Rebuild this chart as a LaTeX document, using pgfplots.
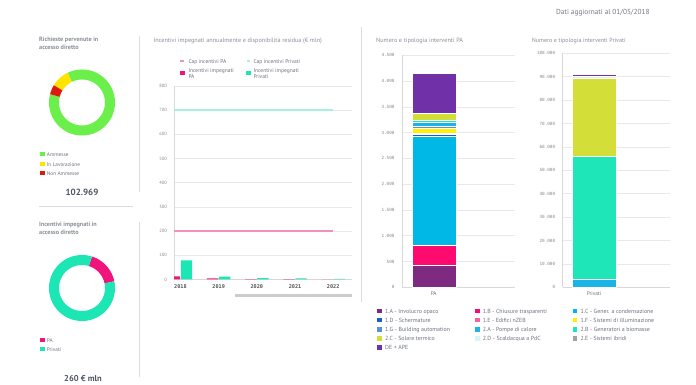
\documentclass[border=0pt]{standalone}
\usepackage{fontspec}
\setmainfont{PT Sans}
\newfontfamily\monof{DejaVu Sans Mono}
\usepackage{pgfplots}
\pgfplotsset{compat=1.18}
\usepgfplotslibrary{polar}
\usepackage{pgfplotstable}
\newcommand\fs[1]{\fontsize{#1}{#1}\selectfont}
\definecolor{titc}{HTML}{8C8F99}
\definecolor{numc}{HTML}{4D5463}
\definecolor{legc}{HTML}{6E7280}
\definecolor{sepc}{HTML}{DDDDDD}
\definecolor{gridc}{HTML}{E8E8E8}
\definecolor{axc}{HTML}{D8D8D8}
\definecolor{tickc}{HTML}{8A8A8A}
\definecolor{xtickc}{HTML}{555555}
\definecolor{paC}{HTML}{F0147C}
\definecolor{privC}{HTML}{1DE6B5}
\definecolor{capPA}{HTML}{F490BC}
\definecolor{capPriv}{HTML}{A6F0DD}
\definecolor{grn}{HTML}{6BEF4A}
\definecolor{yel}{HTML}{FFE400}
\definecolor{rdd}{HTML}{DD1A10}
\definecolor{cA}{HTML}{7D2A80}
\definecolor{cB}{HTML}{FF0A6E}
\definecolor{cC}{HTML}{00B8E6}
\definecolor{cD}{HTML}{1560C8}
\definecolor{cE}{HTML}{F0649A}
\definecolor{cF}{HTML}{FFF200}
\definecolor{cG}{HTML}{5B8FD6}
\definecolor{dA}{HTML}{1AB4E8}
\definecolor{dB}{HTML}{1EE6B8}
\definecolor{dC}{HTML}{D4DE38}
\definecolor{dD}{HTML}{D8F1FA}
\definecolor{dE}{HTML}{A0A0A0}
\definecolor{cDE}{HTML}{7030A8}
\definecolor{scrc}{HTML}{CCCCCC}

\pgfplotstableread{
x pa priv
0 12 79
1 4 11
2 1.5 5.5
3 1 4
4 0.3 2.5
}\incent

\begin{document}
\begin{tikzpicture}[x=1pt,y=1pt]
\useasboundingbox (0,0) rectangle (696,385);
\fill[white] (0,0) rectangle (696,385);

% header
\node[anchor=mid west, inner sep=0, text=numc!80] at (556,373.3) {\fs{7.3}Dati aggiornati al 01/05/2018};

% separators
\draw[sepc, line width=0.8pt] (139,349) -- (139,193);
\draw[sepc, line width=0.8pt] (139,163) -- (139,8);
\draw[sepc, line width=0.8pt] (39,179) -- (132.7,179);
\draw[sepc, line width=0.8pt] (361,358) -- (361,83);

% ---------- left panel 1
\node[anchor=mid west, inner sep=0, text=titc] at (39,345.7) {\fs{6.2}\bfseries Richieste pervenute in};
\node[anchor=mid west, inner sep=0, text=titc] at (39,338.3) {\fs{6.2}\bfseries accesso diretto};
\begin{polaraxis}[at={(82pt,282.5pt)}, anchor=origin, scale only axis, width=66pt, height=66pt,
  hide axis, ymin=0, ymax=1.1786, clip=false]
\addplot[no markers, line width=10pt, draw=grn, domain=165.5:476, samples=150] {1};
\addplot[no markers, line width=10pt, draw=yel, domain=116:148.5, samples=30] {1};
\addplot[no markers, line width=10pt, draw=rdd, domain=148.5:165.5, samples=20] {1};
\end{polaraxis}
\fill[grn] (40,228.7) rectangle (44.7,233.4);
\fill[yel] (40,218.7) rectangle (44.7,223.4);
\fill[rdd] (40,209.7) rectangle (44.7,214.4);
\node[anchor=mid west, inner sep=0, text=legc] at (46.7,231) {\fs{5.3}Ammesse};
\node[anchor=mid west, inner sep=0, text=legc] at (46.7,221) {\fs{5.3}In Lavorazione};
\node[anchor=mid west, inner sep=0, text=legc] at (46.7,212) {\fs{5.3}Non Ammesse};
\node[inner sep=0, text=numc] at (82,192.3) {\fs{9}\bfseries 102.969};

% ---------- left panel 2
\node[anchor=mid west, inner sep=0, text=titc] at (39,161) {\fs{6.2}\bfseries Incentivi impegnati in};
\node[anchor=mid west, inner sep=0, text=titc] at (39,152.7) {\fs{6.2}\bfseries accesso diretto};
\begin{polaraxis}[at={(82pt,97pt)}, anchor=origin, scale only axis, width=66pt, height=66pt,
  hide axis, ymin=0, ymax=1.1786, clip=false]
\addplot[no markers, line width=10pt, draw=paC, domain=11.6:72.5, samples=40] {1};
\addplot[no markers, line width=10pt, draw=privC, domain=72.5:371.6, samples=150] {1};
\end{polaraxis}
\fill[paC] (40,42.7) rectangle (44.7,47.4);
\fill[privC] (40,33.7) rectangle (44.7,38.4);
\node[anchor=mid west, inner sep=0, text=legc] at (46.7,45) {\fs{5.3}PA};
\node[anchor=mid west, inner sep=0, text=legc] at (46.7,36) {\fs{5.3}Privati};
\node[inner sep=0, text=numc] at (83,6.9) {\fs{8.5}\bfseries 260 € mln};

% ---------- middle chart
\node[anchor=mid west, inner sep=0, text=titc] at (153.3,345) {\fs{6.2}Incentivi impegnati annualmente e disponibilità residua (€ mln)};
\draw[capPA, line width=1.2pt] (180,324) -- (183.5,324);
\draw[capPriv, line width=1.2pt] (246.5,324) -- (250,324);
\node[anchor=mid west, inner sep=0, text=legc] at (188.3,324) {\fs{5.5}Cap incentivi PA};
\node[anchor=mid west, inner sep=0, text=legc] at (253.3,324) {\fs{5.5}Cap incentivi Privati};
\fill[paC] (180,309.7) rectangle (184.7,314.4);
\fill[privC] (246,309.7) rectangle (250.7,314.4);
\node[anchor=mid west, inner sep=0, text=legc] at (188.3,314.6) {\fs{5.5}Incentivi impegnati};
\node[anchor=mid west, inner sep=0, text=legc] at (188.3,309) {\fs{5.5}PA};
\node[anchor=mid west, inner sep=0, text=legc] at (253.3,314.6) {\fs{5.5}Incentivi impegnati};
\node[anchor=mid west, inner sep=0, text=legc] at (253.3,309) {\fs{5.5}Privati};

\begin{axis}[at={(174pt,105.6pt)}, anchor=south west, scale only axis, width=178.3pt, height=193.6pt,
  xmin=-0.17, xmax=4.5, ymin=0, ymax=800, ytick={0,100,200,300,400,500,600,700,800},
  xtick={0,1,2,3,4}, xticklabels={2018,2019,2020,2021,2022},
  axis lines*=left, axis line style={draw=axc, line width=0.6pt},
  ymajorgrids, grid style={draw=gridc, line width=0.5pt},
  tick style={draw=none},
  /pgf/number format/assume math mode=true,
  yticklabel style={font=\fs{4.6}, text=tickc, xshift=-3.5pt},
  xticklabel style={font=\monof\bfseries\fs{5.2}, text=xtickc, yshift=-1.5pt},
  clip=true]
\addplot[ybar, bar width=11.4pt, bar shift=-6pt, fill=paC, draw=none] table[x=x,y=pa]{\incent};
\addplot[ybar, bar width=11.4pt, bar shift=6pt, fill=privC, draw=none] table[x=x,y=priv]{\incent};
\addplot[sharp plot, no markers, draw=capPA, line width=1.2pt] coordinates {(-1,200) (0,200) (1,200) (2,200) (3,200) (4,200)};
\addplot[sharp plot, no markers, draw=capPriv, line width=1.2pt] coordinates {(-1,700) (0,700) (1,700) (2,700) (3,700) (4,700)};
\end{axis}
\fill[scrc] (235,88) rectangle (352.3,91);

% ---------- PA stacked
\node[anchor=mid west, inner sep=0, text=titc] at (376,345) {\fs{6.2}Numero e tipologia interventi PA};
\begin{axis}[at={(402pt,97.7pt)}, anchor=south west, scale only axis, width=113pt, height=232pt,
  xmin=0, xmax=1, ymin=0, ymax=4500, ytick={0,500,1000,1500,2000,2500,3000,3500,4000,4500},
  xtick={0.2805}, xticklabels={PA},
  ybar stacked, bar width=44pt,
  axis lines*=left, axis line style={draw=axc, line width=0.6pt},
  ymajorgrids, grid style={draw=gridc, line width=0.5pt},
  tick style={draw=none}, scaled y ticks=false,
  /pgf/number format/.cd, fixed, precision=0, 1000 sep={.}, assume math mode=true, /pgfplots/.cd,
  yticklabel style={font=\monof\fs{4.3}, text=tickc, xshift=-4pt},
  xticklabel style={font=\fs{5.3}, text=legc, yshift=-0.5pt},
  every axis plot/.append style={draw=white, line width=0.3pt}]
\addplot[fill=cA] coordinates {(0.2805,430)};
\addplot[fill=cB] coordinates {(0.2805,384)};
\addplot[fill=cC] coordinates {(0.2805,2116)};
\addplot[fill=cD] coordinates {(0.2805,45)};
\addplot[fill=cE] coordinates {(0.2805,20)};
\addplot[fill=cF] coordinates {(0.2805,100)};
\addplot[fill=cG] coordinates {(0.2805,30)};
\addplot[fill=dA] coordinates {(0.2805,70)};
\addplot[fill=dB] coordinates {(0.2805,50)};
\addplot[fill=dC] coordinates {(0.2805,130)};
\addplot[fill=dD] coordinates {(0.2805,5)};
\addplot[fill=dE] coordinates {(0.2805,5)};
\addplot[fill=cDE] coordinates {(0.2805,765)};
\end{axis}

% ---------- Privati stacked
\node[anchor=mid west, inner sep=0, text=titc] at (531.7,345) {\fs{6.0}Numero e tipologia interventi Privati};
\begin{axis}[at={(562.7pt,97.7pt)}, anchor=south west, scale only axis, width=107.3pt, height=234pt,
  xmin=0, xmax=1, ymin=0, ymax=100000,
  ytick={0,10000,20000,30000,40000,50000,60000,70000,80000,90000,100000},
  xtick={0.2917}, xticklabels={Privati},
  ybar stacked, bar width=43.4pt,
  axis lines*=left, axis line style={draw=axc, line width=0.6pt},
  ymajorgrids, grid style={draw=gridc, line width=0.5pt},
  tick style={draw=none}, scaled y ticks=false,
  /pgf/number format/.cd, fixed, precision=0, 1000 sep={.}, assume math mode=true, /pgfplots/.cd,
  yticklabel style={font=\monof\fs{4.3}, text=tickc, xshift=-4pt},
  xticklabel style={font=\fs{5.3}, text=legc, yshift=-0.5pt},
  every axis plot/.append style={draw=white, line width=0.3pt}]
\addplot[fill=cA] coordinates {(0.2917,50)};
\addplot[fill=cB] coordinates {(0.2917,100)};
\addplot[fill=cC] coordinates {(0.2917,30)};
\addplot[fill=cD] coordinates {(0.2917,10)};
\addplot[fill=cE] coordinates {(0.2917,0)};
\addplot[fill=cF] coordinates {(0.2917,0)};
\addplot[fill=cG] coordinates {(0.2917,0)};
\addplot[fill=dA] coordinates {(0.2917,3300)};
\addplot[fill=dB] coordinates {(0.2917,52600)};
\addplot[fill=dC] coordinates {(0.2917,33200)};
\addplot[fill=dD] coordinates {(0.2917,900)};
\addplot[fill=dE] coordinates {(0.2917,200)};
\addplot[fill=cDE] coordinates {(0.2917,500)};
\end{axis}

% ---------- stacked legend
\foreach \c/\t/\xx/\yy in {cA/1.A - Involucro opaco/377.3/74, cD/1.D - Schermature/377.3/65, cG/1.G - Building automation/377.3/55.7, dC/2.C - Solare termico/377.3/46.7, cDE/DE + APE/377.3/37.7,
  cB/1.B - Chiusure trasparenti/475/74, cE/1.E - Edifici nZEB/475/65, dA/2.A - Pompe di calore/475/55.7, dD/2.D - Scaldacqua a PdC/475/46.7,
  cC/1.C - Gener. a condensazione/572.7/74, cF/1.F - Sistemi di illuminazione/572.7/65, dB/2.B - Generatori a biomasse/572.7/55.7, dE/2.E - Sistemi ibridi/572.7/46.7}{
  \fill[\c] (\xx,\yy-2.35) rectangle ++(4.7,4.7);
  \node[anchor=mid west, inner sep=0, text=legc] at (\xx+7.7,\yy) {\fs{5.9}\t};
}
\end{tikzpicture}
\end{document}
